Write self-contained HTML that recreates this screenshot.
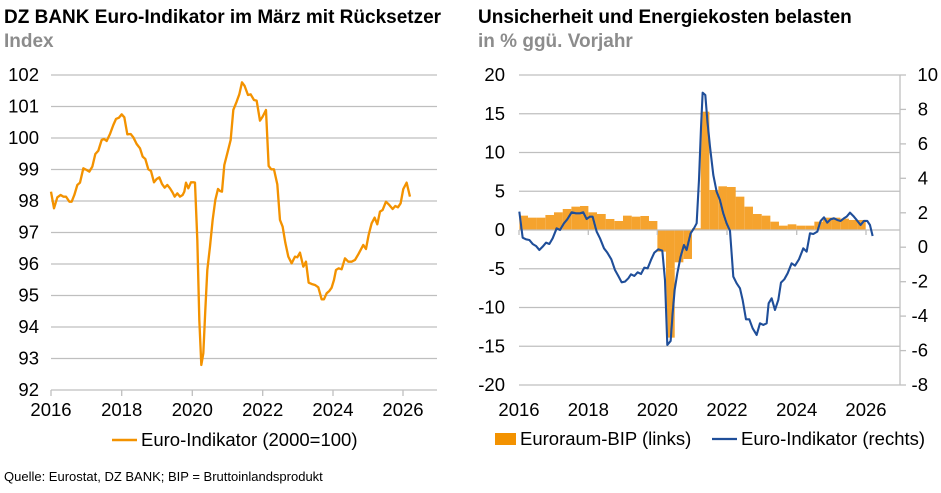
<!DOCTYPE html>
<html><head><meta charset="utf-8"><style>
body{margin:0;background:#fff}
svg{display:block;font-family:"Liberation Sans",Arial,sans-serif}
</style></head><body>
<svg width="941" height="493" viewBox="0 0 941 493" xmlns="http://www.w3.org/2000/svg">
<defs>
<pattern id="st" width="3" height="10" patternUnits="userSpaceOnUse">
<rect width="3" height="10" fill="#F9C58A"/><rect width="2" height="10" fill="#F39200"/>
</pattern>
</defs>
<text x="4" y="23" font-size="19" font-weight="bold" fill="#000">DZ BANK Euro-Indikator im März mit Rücksetzer</text>
<text x="4" y="47" font-size="19" font-weight="bold" fill="#8c8c8c">Index</text>
<text x="478" y="23" font-size="19" font-weight="bold" fill="#000">Unsicherheit und Energiekosten belasten</text>
<text x="478" y="47" font-size="19" font-weight="bold" fill="#8c8c8c">in % ggü. Vorjahr</text>

<!-- Left chart -->
<g stroke="#bfbfbf" stroke-width="1.3">
<line x1="51" x2="437" y1="75" y2="75"/><line x1="51" x2="437" y1="106.5" y2="106.5"/>
<line x1="51" x2="437" y1="138" y2="138"/><line x1="51" x2="437" y1="169.5" y2="169.5"/>
<line x1="51" x2="437" y1="201" y2="201"/><line x1="51" x2="437" y1="232.5" y2="232.5"/>
<line x1="51" x2="437" y1="264" y2="264"/><line x1="51" x2="437" y1="295.5" y2="295.5"/>
<line x1="51" x2="437" y1="327" y2="327"/><line x1="51" x2="437" y1="358.5" y2="358.5"/>
<line x1="51" x2="437" y1="390" y2="390"/>
<line x1="51" x2="51" y1="390" y2="396"/><line x1="121.7" x2="121.7" y1="390" y2="396"/>
<line x1="192.3" x2="192.3" y1="390" y2="396"/><line x1="262.7" x2="262.7" y1="390" y2="396"/>
<line x1="333" x2="333" y1="390" y2="396"/><line x1="403" x2="403" y1="390" y2="396"/>
</g>
<g font-size="18.5" fill="#000" text-anchor="end">
<text x="39" y="81">102</text><text x="39" y="112.5">101</text><text x="39" y="144">100</text>
<text x="39" y="175.5">99</text><text x="39" y="207">98</text><text x="39" y="238.5">97</text>
<text x="39" y="270">96</text><text x="39" y="301.5">95</text><text x="39" y="333">94</text>
<text x="39" y="364.5">93</text><text x="39" y="396">92</text>
</g>
<g font-size="18.5" fill="#000" text-anchor="middle">
<text x="51" y="416">2016</text><text x="121.7" y="416">2018</text><text x="192.3" y="416">2020</text>
<text x="262.7" y="416">2022</text><text x="333" y="416">2024</text><text x="403" y="416">2026</text>
</g>
<polyline fill="none" stroke="#F39200" stroke-linejoin="round" transform="translate(40,60) scale(0.3333)" stroke-width="7" points="33,395 42,445 52,412 62,405 70,410 78,410 88,425 95,425 103,405 112,375 120,368 130,325 140,330 148,335 157,320 166,282 175,272 185,240 192,237 200,243 210,222 220,195 228,177 237,173 245,163 253,172 262,223 272,222 280,232 290,252 300,265 308,290 316,297 325,328 333,333 342,367 350,357 358,352 366,372 374,383 382,375 390,385 398,398 404,410 412,400 420,410 428,405 433,395 438,368 445,385 453,367 462,367 465,368 472,540 478,780 484,915 490,880 496,750 502,630 510,560 518,480 526,420 534,387 540,393 546,395 553,315 562,280 572,240 580,150 590,125 598,103 606,67 614,78 624,105 632,103 642,120 650,122 660,182 668,170 678,150 686,318 694,328 702,328 712,373 720,480 728,500 736,548 745,590 755,610 765,590 772,592 780,578 790,620 798,605 806,668 815,672 825,675 835,682 845,718 852,718 860,700 868,693 875,683 882,660 888,630 896,625 905,628 915,595 925,605 935,605 945,600 955,583 962,570 970,555 978,567 986,525 995,490 1004,473 1012,493 1020,455 1028,450 1038,425 1048,435 1058,447 1066,438 1074,442 1082,430 1090,387 1100,368 1110,410"/>
<line x1="112" x2="137" y1="440" y2="440" stroke="#F39200" stroke-width="2.5"/>
<text x="141" y="446" font-size="18.5">Euro-Indikator (2000=100)</text>

<!-- Right chart -->
<g stroke="#bfbfbf" stroke-width="1.3">
<line x1="519" x2="900" y1="75" y2="75"/><line x1="519" x2="900" y1="113.75" y2="113.75"/>
<line x1="519" x2="900" y1="152.5" y2="152.5"/><line x1="519" x2="900" y1="191.25" y2="191.25"/>
<line x1="519" x2="900" y1="268.75" y2="268.75"/>
<line x1="519" x2="900" y1="307.5" y2="307.5"/><line x1="519" x2="900" y1="346.25" y2="346.25"/>
<line x1="519" x2="900" y1="385" y2="385"/>
<line x1="900" x2="900" y1="75" y2="385"/>
<g>
<line x1="900" x2="906" y1="75" y2="75"/><line x1="900" x2="906" y1="109.4" y2="109.4"/>
<line x1="900" x2="906" y1="143.9" y2="143.9"/><line x1="900" x2="906" y1="178.3" y2="178.3"/>
<line x1="900" x2="906" y1="212.8" y2="212.8"/><line x1="900" x2="906" y1="247.2" y2="247.2"/>
<line x1="900" x2="906" y1="281.7" y2="281.7"/><line x1="900" x2="906" y1="316.1" y2="316.1"/>
<line x1="900" x2="906" y1="350.6" y2="350.6"/><line x1="900" x2="906" y1="385" y2="385"/>
</g>
</g>
<g font-size="18.5" fill="#000" text-anchor="end">
<text x="505" y="81">20</text><text x="505" y="119.75">15</text><text x="505" y="158.5">10</text>
<text x="505" y="197.25">5</text><text x="505" y="236">0</text><text x="505" y="274.75">-5</text>
<text x="505" y="313.5">-10</text><text x="505" y="352.25">-15</text><text x="505" y="391">-20</text>
</g>
<g font-size="18.5" fill="#000" text-anchor="end">
<text x="938" y="81">10</text><text x="928" y="115.4">8</text><text x="928" y="149.9">6</text>
<text x="928" y="184.3">4</text><text x="928" y="218.8">2</text><text x="928" y="253.2">0</text>
<text x="928" y="287.7">-2</text><text x="928" y="322.1">-4</text><text x="928" y="356.6">-6</text>
<text x="928" y="391">-8</text>
</g>
<g font-size="18.5" fill="#000" text-anchor="middle">
<text x="519" y="416">2016</text><text x="588.3" y="416">2018</text><text x="657.3" y="416">2020</text>
<text x="727" y="416">2022</text><text x="796.7" y="416">2024</text><text x="866" y="416">2026</text>
</g>
<g fill="url(#st)" transform="translate(500,60) scale(0.3333)">
<rect x="58" y="467" width="26" height="43"/>
<rect x="84" y="473" width="26" height="37"/>
<rect x="110" y="473" width="26" height="37"/>
<rect x="136" y="465" width="26" height="45"/>
<rect x="162" y="457" width="26" height="53"/>
<rect x="188" y="447" width="26" height="63"/>
<rect x="214" y="440" width="26" height="70"/>
<rect x="240" y="438" width="25" height="72"/>
<rect x="265" y="457" width="26" height="53"/>
<rect x="291" y="462" width="26" height="48"/>
<rect x="317" y="477" width="26" height="33"/>
<rect x="343" y="483" width="26" height="27"/>
<rect x="369" y="467" width="26" height="43"/>
<rect x="395" y="470" width="26" height="40"/>
<rect x="421" y="468" width="26" height="42"/>
<rect x="447" y="483" width="25" height="27"/>
<rect x="472" y="510" width="26" height="65"/>
<rect x="498" y="510" width="26" height="323"/>
<rect x="524" y="510" width="26" height="97"/>
<rect x="550" y="510" width="26" height="87"/>
<rect x="576" y="505" width="26" height="5"/>
<rect x="602" y="155" width="26" height="355"/>
<rect x="628" y="390" width="27" height="120"/>
<rect x="655" y="379" width="26" height="131"/>
<rect x="681" y="381" width="26" height="129"/>
<rect x="707" y="410" width="26" height="100"/>
<rect x="733" y="440" width="26" height="70"/>
<rect x="759" y="462" width="26" height="48"/>
<rect x="785" y="467" width="26" height="43"/>
<rect x="811" y="485" width="26" height="25"/>
<rect x="837" y="497" width="26" height="13"/>
<rect x="863" y="493" width="26" height="17"/>
<rect x="889" y="497" width="27" height="13"/>
<rect x="916" y="497" width="27" height="13"/>
<rect x="943" y="485" width="26" height="25"/>
<rect x="969" y="473" width="26" height="37"/>
<rect x="995" y="473" width="26" height="37"/>
<rect x="1021" y="476" width="26" height="34"/>
<rect x="1047" y="480" width="26" height="30"/>
<rect x="1073" y="480" width="24" height="30"/>
</g>
<line x1="519" x2="900" y1="230" y2="230" stroke="#bfbfbf" stroke-width="1.3"/>
<g stroke="#bfbfbf" stroke-width="1.3">
<line x1="519" x2="519" y1="230" y2="235"/><line x1="588.3" x2="588.3" y1="230" y2="235"/>
<line x1="657.3" x2="657.3" y1="230" y2="235"/><line x1="727" x2="727" y1="230" y2="235"/>
<line x1="796.7" x2="796.7" y1="230" y2="235"/><line x1="866" x2="866" y1="230" y2="235"/>
</g>
<polyline fill="none" stroke="#1F4E99" stroke-width="6.3" stroke-linejoin="round" transform="translate(500,60) scale(0.3333)" points="58,455 68,533 78,538 88,540 98,552 108,558 118,570 128,560 138,548 148,552 158,535 170,505 180,510 192,490 202,478 215,457 228,460 240,460 250,457 260,477 270,470 278,470 290,515 300,535 312,565 322,578 334,598 345,630 355,648 365,667 375,665 385,655 393,643 403,648 413,637 423,642 433,623 443,625 453,600 463,578 475,568 487,572 495,660 502,855 512,843 518,760 524,690 532,640 542,590 552,555 560,570 566,545 572,520 582,505 590,490 597,360 603,205 608,98 616,105 622,180 630,260 640,345 650,395 660,420 670,460 680,490 690,512 700,650 710,670 720,685 728,720 738,778 748,778 758,805 770,825 780,790 790,795 800,790 806,730 815,715 825,750 835,720 843,668 853,658 863,640 875,610 885,617 897,598 910,565 920,575 930,520 940,522 952,515 962,483 972,472 982,488 992,478 1002,475 1012,480 1022,483 1032,475 1040,470 1050,458 1060,468 1070,480 1082,495 1092,483 1102,483 1110,495 1118,528"/>
<rect x="495" y="433" width="21" height="12" fill="#F39200"/>
<text x="520" y="445" font-size="18.5">Euroraum-BIP (links)</text>
<line x1="712" x2="737" y1="439" y2="439" stroke="#1F4E99" stroke-width="2.2"/>
<text x="741" y="445" font-size="18.5">Euro-Indikator (rechts)</text>

<text x="4" y="481" font-size="13" fill="#000">Quelle: Eurostat, DZ BANK; BIP = Bruttoinlandsprodukt</text>
</svg>
</body></html>
